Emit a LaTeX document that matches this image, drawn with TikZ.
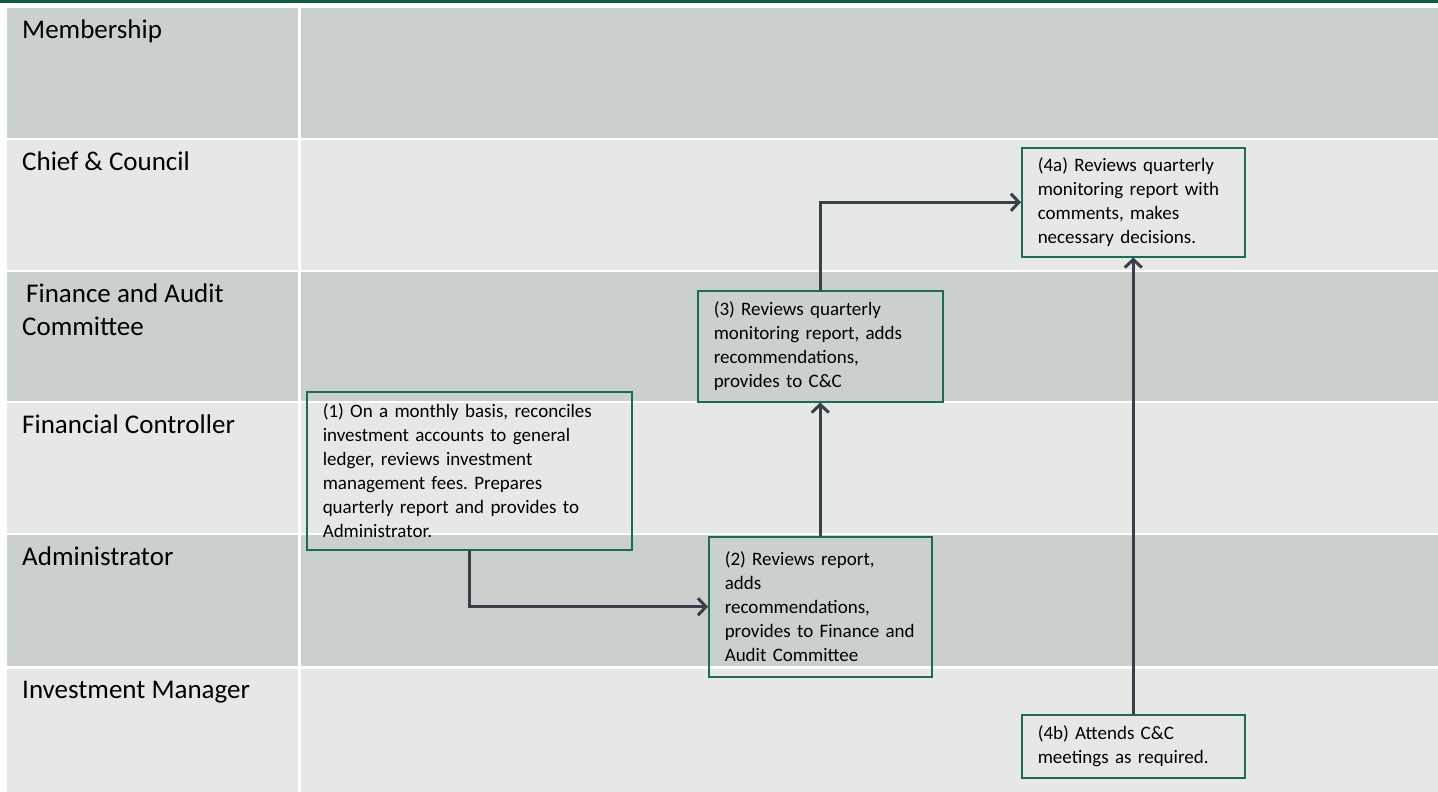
\documentclass[tikz,border=0pt]{standalone}
\usepackage{fontspec}
\setmainfont{Carlito}
\usetikzlibrary{positioning,arrows.meta}
\definecolor{lanedark}{HTML}{CAD0CE}
\definecolor{lanelight}{HTML}{E6E8E7}
\definecolor{boxgreen}{HTML}{1E6B52}
\definecolor{topgreen}{HTML}{125A43}
\definecolor{flowgray}{HTML}{3A3F48}

\begin{document}
\begin{tikzpicture}[x=1pt,y=-1pt,
    lanelabel/.style={anchor=north west,inner sep=0pt,align=left,font=\fontsize{27}{33}\selectfont},
    stepbox/.style={draw=boxgreen,line width=1.5pt,anchor=north west,inner xsep=16pt,inner ysep=0pt,
      align=left,font=\fontsize{19}{24}\selectfont\frenchspacing},
    flow/.style={draw=flowgray,line width=3pt,-{Straight Barb[length=8pt,width=17pt]}},
    ]
\useasboundingbox (0,0) rectangle (1438,792);
\fill[white] (0,0) rectangle (1438,792);
\fill[topgreen] (0,0) rectangle (1438,3);

% swim lanes
\foreach \ytop/\ybot/\col/\nm/\txt in {
    8/138/lanedark/mem/Membership,
    140/270/lanelight/cc/Chief \& Council,
    272/401/lanedark/fac/\hspace{4pt}Finance and Audit\\Committee,
    403/533/lanelight/fc/Financial Controller,
    535/666/lanedark/adm/Administrator,
    669/792/lanelight/im/Investment Manager}{
  \fill[\col] (7,\ytop) rectangle (298,\ybot);
  \fill[\col] (301,\ytop) rectangle (1438,\ybot);
  \node[lanelabel] (\nm) at (22,\ytop+12) {\txt};
}

% steps
\node[stepbox,text width=293pt,minimum height=158pt] (s1) at (306,391)
  {(1) On a monthly basis, reconciles\\investment accounts to general\\ledger, reviews investment\\management fees. Prepares\\quarterly report and provides to\\Administrator.};
\node[stepbox,text width=191pt,minimum height=140pt] (s2) at (708,536)
  {(2) Reviews report,\\adds\\recommendations,\\provides to Finance and\\Audit Committee};
\node[stepbox,text width=213pt,minimum height=111pt] (s3) at (697,290)
  {(3) Reviews quarterly\\monitoring report, adds\\recommendations,\\provides to C\&C};
\node[stepbox,text width=191pt,minimum height=109pt] (s4a) at (1021,147)
  {(4a) Reviews quarterly\\monitoring report with\\comments, makes\\necessary decisions.};
\node[stepbox,text width=191pt,minimum height=63pt] (s4b) at (1021,714)
  {(4b) Attends C\&C\\meetings as required.};

% flow
\draw[flow] (s1.south) |- (s2.west);
\draw[flow] (s2.north) -- (s3.south);
\draw[flow] (s3.north) |- (s4a.west);
\draw[flow] (s4b.north) -- (s4a.south);
\end{tikzpicture}
\end{document}
